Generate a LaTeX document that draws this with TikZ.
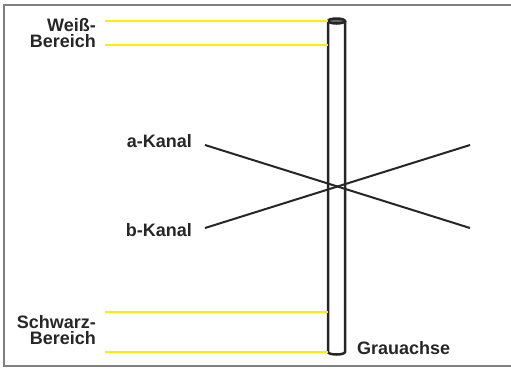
\documentclass[tikz,border=0pt]{standalone}
\usepackage{fontspec}
\setmainfont{Liberation Sans}
\usetikzlibrary{positioning}

\tikzset{
  lab/.style={font=\bfseries\fontsize{18}{16.5}\selectfont, align=right, inner sep=0pt, text=black!85},
  zone/.style={yellow!95!orange, line width=2pt},
  kanal/.style={black!85, line width=2pt},
  rohr/.style={black!85, line width=2.5pt}
}

\begin{document}
\begin{tikzpicture}[x=1pt,y=-1pt]
\useasboundingbox (0,0) rectangle (511,368);
\draw[gray, line width=1.5pt] (4,5) rectangle (516,366);

% Grauachse
\coordinate (oben) at (336.5,21);
\coordinate (unten) at (336.5,352);
\fill[white] (328,21) rectangle (345,352);
\draw[rohr] (328,21) -- (328,352) arc[start angle=180, end angle=0, x radius=8.5, y radius=2.5] -- (345,21);
\draw[rohr, fill=black!60] (oben) ellipse[x radius=8.5, y radius=2.5];
\node[lab, anchor=west] (grau) at (357,348) {Grauachse};

% Bereiche
\node[lab, anchor=east] (weiss) at (96,33) {Wei\ss-\\Bereich};
\node[lab, anchor=east] (schwarz) at (96,330) {Schwarz-\\Bereich};
\coordinate (w1) at (105,21);
\coordinate (w2) at (105,45);
\coordinate (s1) at (105,312);
\coordinate (s2) at (105,352);
\draw[zone] (w1) -- (328,21);
\draw[zone] (w2) -- (328,45);
\draw[zone] (s1) -- (328,312);
\draw[zone] (s2) -- (328,352);

% Kanaele
\node[lab, anchor=east] (akanal) at (192,141) {a-Kanal};
\node[lab, anchor=east] (bkanal) at (192,230) {b-Kanal};
\coordinate (a1) at (205,145);
\coordinate (a2) at (470,228);
\coordinate (b1) at (205,228);
\coordinate (b2) at (470,145);
\draw[kanal] (a1) -- (a2);
\draw[kanal] (b1) -- (b2);
\end{tikzpicture}
\end{document}
